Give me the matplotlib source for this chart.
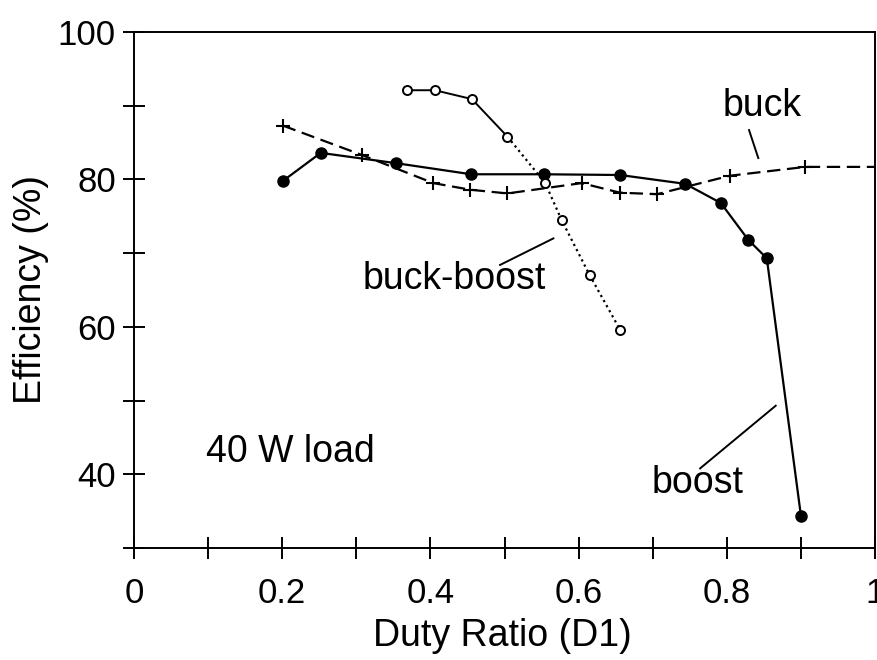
import matplotlib.pyplot as plt
import numpy as np

plt.rcParams['font.family'] = ['Liberation Sans', 'DejaVu Sans']

# data
boost_x = [0.201, 0.252, 0.354, 0.455, 0.553, 0.656, 0.744, 0.792, 0.829, 0.854, 0.900]
boost_y = [79.8, 83.6, 82.2, 80.7, 80.7, 80.6, 79.4, 76.8, 71.8, 69.3, 34.4]

buck_x = [0.201, 0.308, 0.404, 0.454, 0.504, 0.604, 0.656, 0.706, 0.804, 0.906, 1.0]
buck_y = [87.3, 83.3, 79.5, 78.6, 78.1, 79.5, 78.2, 78.0, 80.5, 81.7, 81.7]

bb_x = [0.368, 0.406, 0.456, 0.504, 0.555, 0.577, 0.615, 0.656]
bb_y = [92.1, 92.1, 90.9, 85.8, 79.5, 74.5, 67.0, 59.6]

xticks = [0, 0.2, 0.4, 0.6, 0.8, 1]
xticklabels = ['0', '0.2', '0.4', '0.6', '0.8', '1']
yticks = [40, 60, 80, 100]

fig = plt.figure(figsize=(8.77, 6.6), dpi=100)
ax = fig.add_axes([134/877, 1 - 548/660, 741/877, 516/660])

# buck (dashed, plus markers)
ax.plot(buck_x, buck_y, color='black', lw=1.6, ls=(0, (6, 3)),
        marker='+', ms=10, mew=1.5, markevery=list(range(len(buck_x) - 1)))

# boost (solid, filled circles)
ax.plot(boost_x, boost_y, color='black', lw=1.6, marker='o', ms=8)

# buck-boost: solid on top then dotted, open circles
ax.plot(bb_x[:4], bb_y[:4], color='black', lw=1.4)
ax.plot(bb_x[3:], bb_y[3:], color='black', lw=1.6, ls=(0, (1, 1.6)))
ax.plot(bb_x, bb_y, ls='none', marker='o', ms=6.5, mfc='white', mec='black', mew=1.4)

ax.set_xlim(0, 1)
ax.set_ylim(30, 100)
ax.set_xticks(xticks)
ax.set_xticklabels(xticklabels)
ax.set_xticks(np.arange(0.1, 1.0, 0.2), minor=True)
ax.set_yticks(yticks)
ax.set_yticks([30, 50, 70, 90], minor=True)

ax.tick_params(which='both', direction='inout', length=16, width=1.4)
ax.tick_params(axis='x', which='major', labelsize=25, pad=13)
ax.tick_params(axis='y', which='major', labelsize=25, pad=5)
for s in ax.spines.values():
    s.set_linewidth(1.4)

ax.set_xlabel('Duty Ratio (D1)', fontsize=27)
ax.xaxis.set_label_coords(0.497, -0.135)
ax.set_ylabel('Efficiency (%)', fontsize=27, va='center')
ax.yaxis.set_label_coords(-0.139, 0.5)

# annotations
ax.text(0.847, 89.9, 'buck', fontsize=27, ha='center', va='center')
ax.plot([0.830, 0.8425], [86.7, 82.9], color='black', lw=1.4)
ax.text(0.432, 66.5, 'buck-boost', fontsize=27, ha='center', va='center')
ax.plot([0.494, 0.566], [68.4, 72.0], color='black', lw=1.4)
ax.text(0.760, 38.8, 'boost', fontsize=27, ha='center', va='center')
ax.plot([0.764, 0.866], [40.8, 49.3], color='black', lw=1.4)
ax.text(0.2105, 43.0, '40 W load', fontsize=27, ha='center', va='center')

fig.savefig('out.png', dpi=100)
